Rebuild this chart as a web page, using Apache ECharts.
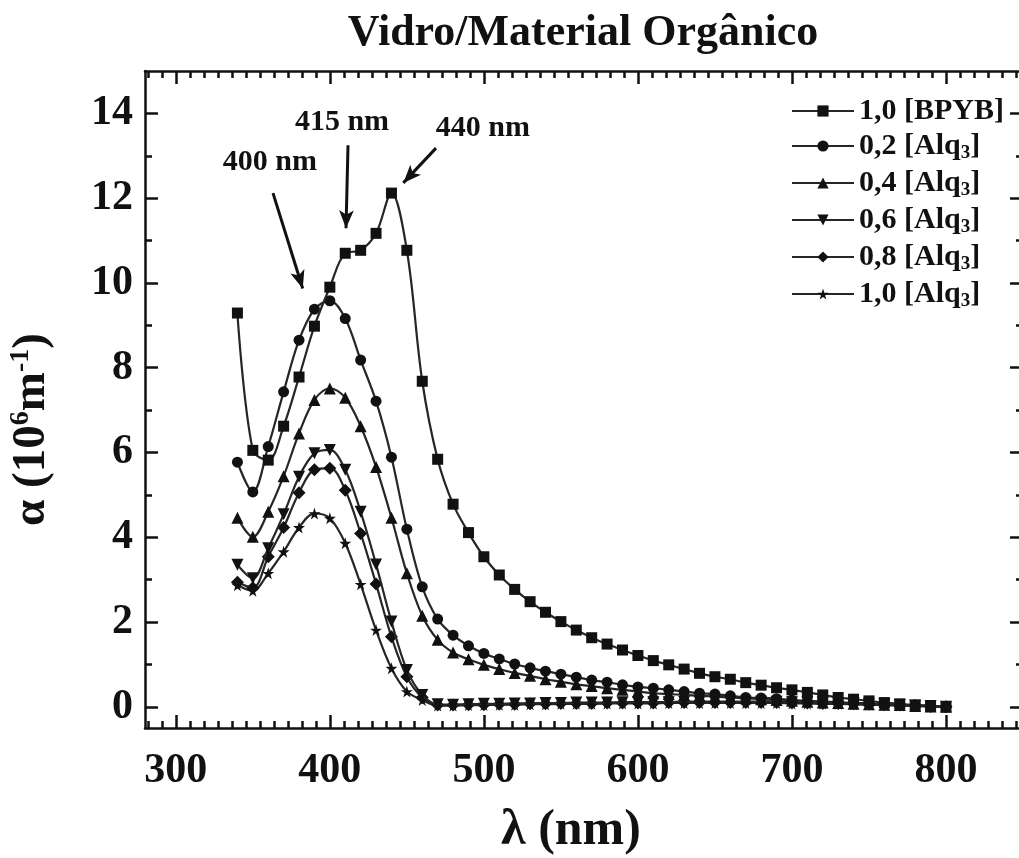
<!DOCTYPE html>
<html>
<head>
<meta charset="utf-8">
<script src="https://cdn.jsdelivr.net/npm/echarts@6/dist/echarts.min.js"></script>
<style>
html,body{margin:0;padding:0;background:#fff;}
#chart{width:1019px;height:858px;}
</style>
</head>
<body>
<div id="chart"></div>
<script>
// ---- data ----
const wavelength = [340,350,360,370,380,390,400,410,420,430,440,450,460,470,480,490,500,510,520,530,540,550,560,570,580,590,600,610,620,630,640,650,660,670,680,690,700,710,720,730,740,750,760,770,780,790,800];

const bpyb10 = [9.29,6.05,5.82,6.62,7.78,8.98,9.90,10.70,10.77,11.17,12.12,10.77,7.68,5.84,4.78,4.11,3.54,3.11,2.77,2.48,2.23,2.01,1.81,1.63,1.48,1.34,1.21,1.09,0.99,0.89,0.79,0.71,0.65,0.57,0.51,0.45,0.40,0.34,0.28,0.22,0.18,0.14,0.10,0.07,0.04,0.02,0.0];
const alq02 = [5.77,5.07,6.14,7.43,8.65,9.38,9.58,9.16,8.18,7.21,5.89,4.19,2.83,2.07,1.69,1.44,1.26,1.13,1.01,0.92,0.84,0.77,0.70,0.63,0.58,0.52,0.47,0.44,0.40,0.36,0.32,0.30,0.26,0.22,0.21,0.19,0.16,0.14,0.12,0.11,0.09,0.08,0.06,0.05,0.03,0.02,0.0];
const alq04 = [4.46,4.01,4.60,5.44,6.45,7.24,7.51,7.29,6.62,5.66,4.46,3.15,2.15,1.58,1.28,1.12,0.99,0.89,0.80,0.73,0.65,0.59,0.53,0.49,0.44,0.40,0.36,0.32,0.30,0.28,0.26,0.24,0.22,0.20,0.18,0.16,0.14,0.12,0.10,0.09,0.07,0.06,0.05,0.04,0.02,0.01,0.0];
const alq06 = [3.35,3.03,3.74,4.54,5.43,5.98,6.06,5.59,4.60,3.36,2.01,0.87,0.28,0.06,0.05,0.06,0.07,0.07,0.08,0.08,0.09,0.09,0.10,0.10,0.10,0.11,0.11,0.11,0.11,0.12,0.12,0.12,0.12,0.12,0.12,0.12,0.11,0.11,0.10,0.09,0.08,0.07,0.06,0.04,0.03,0.02,0.0];
const alq08 = [2.94,2.81,3.54,4.23,5.05,5.59,5.63,5.11,4.09,2.90,1.65,0.71,0.22,0.04,0.04,0.05,0.05,0.06,0.06,0.07,0.07,0.08,0.08,0.08,0.09,0.09,0.09,0.09,0.10,0.10,0.10,0.10,0.10,0.10,0.10,0.10,0.09,0.09,0.08,0.08,0.07,0.06,0.05,0.04,0.03,0.01,0.0];
const alq10 = [2.87,2.74,3.15,3.66,4.23,4.56,4.45,3.86,2.89,1.81,0.91,0.36,0.16,0.03,0.03,0.04,0.04,0.05,0.05,0.06,0.06,0.07,0.07,0.07,0.08,0.08,0.08,0.08,0.09,0.09,0.09,0.09,0.09,0.09,0.09,0.09,0.08,0.08,0.07,0.07,0.06,0.05,0.04,0.03,0.02,0.01,0.0];

const seriesNames = ['1,0 [BPYB]','0,2 [Alq3]','0,4 [Alq3]','0,6 [Alq3]','0,8 [Alq3]','1,0 [Alq3]'];

const xTickValues = [300,400,500,600,700,800];
const yTickValues = [0,2,4,6,8,10,12,14];

const peakLabels = ['400 nm','415 nm','440 nm'];
const peakLabelPos = [[361.1,12.85],[407.9,13.8],[499.4,13.66]];
const arrowFrom = [[363.1,12.12],[411.8,13.25],[468.9,13.18]];
const arrowTo = [[382.4,9.87],[410.5,11.29],[447.7,12.36]];

// ---- chart ----
const X_MIN = 280, X_MAX = 850, Y_MIN = -0.5, Y_MAX = 15;
const FONT = "'Liberation Serif','Times New Roman',serif";
const INK = '#111';

const xMinor = [];
for (let k = -2; k <= 62; k++) {
  const v = 300 + k * 100 / 11;
  if (k % 11 !== 0 && v > X_MIN && v < X_MAX) xMinor.push(v);
}
const yMinor = [];
for (let v = 1; v < Y_MAX; v += 2) yMinor.push(v);

const symbols = ['rect','circle','triangle','triangle','diamond',
  'path://M50,0 L61,35 L98,35 L68,57 L79,91 L50,70 L21,91 L32,57 L2,35 L39,35 Z'];
const symbolSizes = [11,11,12,12,13,12];
const symbolRotates = [0,0,0,180,0,0];
const seriesData = [bpyb10, alq02, alq04, alq06, alq08, alq10];

const gridRect = {left:145, top:71, width:878, height:657, outerBoundsMode:'none', containLabel:false};

function xAx(grid, pos, major, showLabel, extra) {
  return Object.assign({
    type:'value', gridIndex:grid, position:pos, min:X_MIN, max:X_MAX,
    axisLine:{show:grid===0, onZero:false, lineStyle:{color:INK, width:2.5}},
    axisTick:{show:true, inside:true, length: major?13:7, customValues: major?xTickValues:xMinor, lineStyle:{color:INK, width:2.5}},
    axisLabel:{show:showLabel, customValues:xTickValues, margin:22, color:INK, fontFamily:FONT, fontWeight:'bold', fontSize:42},
    splitLine:{show:false}
  }, extra||{});
}
function yAx(grid, pos, major, showLabel, extra) {
  return Object.assign({
    type:'value', gridIndex:grid, position:pos, min:Y_MIN, max:Y_MAX,
    axisLine:{show:grid===0, onZero:false, lineStyle:{color:INK, width:2.5}},
    axisTick:{show:true, inside:true, length: major?13:7, customValues: major?yTickValues:yMinor, lineStyle:{color:INK, width:2.5}},
    axisLabel:{show:showLabel, customValues:yTickValues, margin:12, color:INK, fontFamily:FONT, fontWeight:'bold', fontSize:42},
    splitLine:{show:false}
  }, extra||{});
}

const series = seriesNames.map((name, i) => {
  const s = {
    name, type:'line', xAxisIndex:0, yAxisIndex:0,
    data: wavelength.map((w, j) => [w, seriesData[i][j]]),
    smooth:0.35, symbol:symbols[i], symbolSize:symbolSizes[i], symbolRotate:symbolRotates[i],
    showSymbol:true, showAllSymbol:true,
    lineStyle:{color:'#262626', width:2.2},
    itemStyle:{color:INK, borderWidth:0},
    z: 10 - i
  };
  if (i === 0) {
    s.markLine = {
      silent:true, animation:false, symbol:['none','arrow'], symbolSize:[11,18],
      lineStyle:{type:'solid', color:INK, width:3},
      label:{show:false},
      data: arrowFrom.map((f, k) => [{coord:f}, {coord:arrowTo[k]}])
    };
    s.markPoint = {
      silent:true, animation:false, symbol:'circle', symbolSize:1,
      itemStyle:{color:'rgba(0,0,0,0)'},
      label:{show:true, position:'inside', formatter:'{b}', color:INK, fontFamily:FONT, fontWeight:'bold', fontSize:30},
      data: peakLabels.map((t, k) => ({name:t, coord:peakLabelPos[k]}))
    };
  }
  return s;
});

const chart = echarts.init(document.getElementById('chart'), null, {renderer:'canvas'});
chart.setOption({
  animation:false,
  backgroundColor:'#fff',
  title:{
    text:'Vidro/Material Orgânico', left:578, top:7, textAlign:'center',
    textStyle:{fontFamily:FONT, fontWeight:'bold', fontSize:44, color:INK}
  },
  legend:{
    orient:'vertical', left:786, top:91, itemWidth:62, itemHeight:14, itemGap:5,
    data:seriesNames,
    textStyle:{fontFamily:FONT, fontWeight:'bold', fontSize:30, color:INK,
      rich:{
        a:{fontFamily:FONT, fontWeight:'bold', fontSize:30, color:INK, lineHeight:34},
        s:{fontFamily:FONT, fontWeight:'bold', fontSize:19, color:INK, lineHeight:18, verticalAlign:'bottom', padding:[0,0,0,0]}
      }},
    formatter: function(n){
      const m = n.match(/^(.*Alq)3(\])$/);
      if (m) return '{a|' + m[1] + '}{s|3}{a|' + m[2] + '}';
      return '{a|' + n + '}';
    }
  },
  grid:[Object.assign({}, gridRect), Object.assign({}, gridRect)],
  xAxis:[
    xAx(0,'bottom',true,true,{name:'λ (nm)', nameLocation:'middle', nameGap:78,
      nameTextStyle:{fontFamily:FONT, fontWeight:'bold', fontSize:50, color:INK, padding:[0,26,0,0]}}),
    xAx(0,'top',true,false),
    xAx(1,'bottom',false,false),
    xAx(1,'top',false,false)
  ],
  yAxis:[
    yAx(0,'left',true,true,{
      name:'{a|α (10}{p|6}{a|m}{p|-1}{a|)}', nameLocation:'middle', nameGap:88,
      nameTextStyle:{fontFamily:FONT, fontWeight:'bold', fontSize:46, color:INK, padding:[0,60,0,0],
        rich:{
          a:{fontFamily:FONT, fontWeight:'bold', fontSize:47, color:INK, lineHeight:50},
          p:{fontFamily:FONT, fontWeight:'bold', fontSize:28, color:INK, lineHeight:26, verticalAlign:'top'}
        }}
    }),
    yAx(0,'right',true,false),
    yAx(1,'left',false,false),
    yAx(1,'right',false,false)
  ],
  series: series
});
</script>
</body>
</html>
